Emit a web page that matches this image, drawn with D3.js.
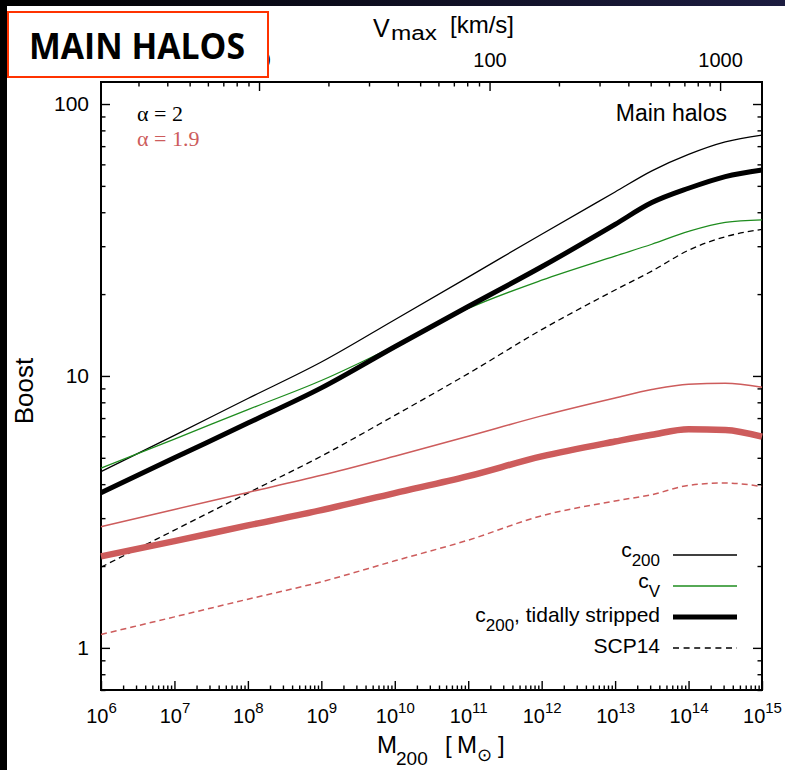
<!DOCTYPE html>
<html lang="en">
<head>
<meta charset="utf-8">
<title>Main halos - Boost</title>
<script src="https://d3js.org/d3.v7.min.js"></script>
<style>
  body { margin: 0; background: #fff; }
  text { font-family: "Liberation Sans", Arial, Helvetica, sans-serif; fill: #000; }
  .serif { font-family: "Liberation Serif", "Times New Roman", serif; }
</style>
</head>
<body>
<script>
// halo mass exponents (log10 M200) where the curves are sampled
const massExp = [6, 7, 8, 9, 10, 11, 12, 13, 13.5, 14, 14.5, 15];

// alpha = 2 (black / green)
const c200     = [4.45, 6.05, 8.26, 11.25, 16.1, 23.1, 33.2, 47.5, 56.8, 65.3, 72.6, 76.9];
const cV       = [4.58, 5.86, 7.52, 9.62, 12.9, 17.7, 22.5, 27.6, 30.5, 34.0, 36.7, 37.5];
const stripped = [3.72, 5.00, 6.71, 9.04, 12.8, 18.0, 25.2, 36.1, 43.4, 49.0, 54.1, 57.2];
const scp14    = [1.98, 2.71, 3.71, 5.07, 7.16, 10.2, 14.8, 20.7, 24.3, 29.0, 32.5, 34.6];

// alpha = 1.9 (red)
const c200Red     = [2.79, 3.23, 3.73, 4.31, 5.07, 6.00, 7.13, 8.30, 8.91, 9.33, 9.40, 9.08];
const strippedRed = [2.17, 2.47, 2.82, 3.21, 3.71, 4.28, 5.06, 5.74, 6.08, 6.37, 6.33, 5.98];
const scp14Red    = [1.12, 1.30, 1.51, 1.75, 2.09, 2.49, 3.06, 3.47, 3.66, 3.96, 4.04, 3.92];

const massTicks = [6, 7, 8, 9, 10, 11, 12, 13, 14, 15];
const boostTicks = [1, 10, 100];
const vmaxTicks = [10, 100, 1000];

const legendLabels = ["c200", "cV", "c200, tidally stripped", "SCP14"];

const width = 785, height = 770;
const plotL = 101, plotR = 762, plotT = 82, plotB = 690;
const red = "#cd5c5c", green = "#1e8c1e";

const x = d3.scaleLog().domain([1e6, 1e15]).range([plotL, plotR]);
const y = d3.scaleLog().domain([0.7, 120.5]).range([plotB, plotT]);
const v = d3.scaleLog().domain([2.063, 1520]).range([plotL, plotR]);

const svg = d3.select("body").append("svg")
  .attr("width", width).attr("height", height);

// slide background bits around the figure
const grad = svg.append("defs").append("linearGradient").attr("id", "band");
grad.append("stop").attr("offset", "0%").attr("stop-color", "#000");
grad.append("stop").attr("offset", "100%").attr("stop-color", "#1c1c40");
svg.append("rect").attr("x", 0).attr("y", 0).attr("width", width).attr("height", 6).attr("fill", "url(#band)");
svg.append("rect").attr("x", 0).attr("y", 0).attr("width", 7).attr("height", height).attr("fill", "#000");

// minor tick values
const minor = (lo, hi, dom) => {
  const out = [];
  for (let k = lo; k <= hi; k++)
    for (let m = 2; m <= 9; m++) {
      const val = m * Math.pow(10, k);
      if (val > dom[0] && val < dom[1]) out.push(val);
    }
  return out;
};

function axisGroup(axis, tx, ty) {
  const g = svg.append("g").attr("transform", `translate(${tx},${ty})`).call(axis);
  g.select(".domain").remove();
  g.selectAll(".tick line").attr("stroke", "#000").attr("stroke-width", 1.4);
  return g;
}

// bottom axis (M200)
const gx = axisGroup(d3.axisBottom(x)
  .tickValues(massTicks.map(e => Math.pow(10, e)))
  .tickSizeInner(-9).tickSizeOuter(0).tickPadding(33).tickFormat(""), 0, plotB);
gx.selectAll(".tick text").attr("font-size", 20).attr("dy", 0).each(function(d) {
  const t = d3.select(this);
  t.append("tspan").text("10");
  t.append("tspan").attr("font-size", 15).attr("dy", -10).text(Math.round(Math.log10(d)));
});
axisGroup(d3.axisBottom(x).tickValues(minor(6, 14, x.domain()))
  .tickSizeInner(-4.5).tickSizeOuter(0).tickFormat(""), 0, plotB);

// left axis (Boost)
const gy = axisGroup(d3.axisLeft(y).tickValues(boostTicks)
  .tickSizeInner(-9).tickSizeOuter(0).tickPadding(12).tickFormat(d3.format("d")), plotL, 0);
gy.selectAll(".tick text").attr("font-size", 21);
axisGroup(d3.axisLeft(y).tickValues(minor(-1, 1, y.domain()))
  .tickSizeInner(-4.5).tickSizeOuter(0).tickFormat(""), plotL, 0);

// right mirror ticks
axisGroup(d3.axisRight(y).tickValues(boostTicks)
  .tickSizeInner(-9).tickSizeOuter(0).tickFormat(""), plotR, 0);
axisGroup(d3.axisRight(y).tickValues(minor(-1, 1, y.domain()))
  .tickSizeInner(-4.5).tickSizeOuter(0).tickFormat(""), plotR, 0);

// top axis (Vmax)
const gv = axisGroup(d3.axisTop(v).tickValues(vmaxTicks)
  .tickSizeInner(-9).tickSizeOuter(0).tickPadding(15).tickFormat(d3.format("d")), 0, plotT);
gv.selectAll(".tick text").attr("font-size", 20);
axisGroup(d3.axisTop(v).tickValues(minor(0, 2, v.domain()))
  .tickSizeInner(-4.5).tickSizeOuter(0).tickFormat(""), 0, plotT);

// frame
svg.append("rect").attr("x", plotL).attr("y", plotT)
  .attr("width", plotR - plotL).attr("height", plotB - plotT)
  .attr("fill", "none").attr("stroke", "#000").attr("stroke-width", 2);

// curves
const line = d3.line().curve(d3.curveMonotoneX)
  .x(d => x(Math.pow(10, d[0]))).y(d => y(d[1]));
const series = [
  { vals: c200,        color: "#000", w: 1.3, dash: null },
  { vals: cV,          color: green,  w: 1.3, dash: null },
  { vals: scp14,       color: "#000", w: 1.3, dash: "6,4" },
  { vals: stripped,    color: "#000", w: 5,   dash: null },
  { vals: c200Red,     color: red,    w: 1.5, dash: null },
  { vals: scp14Red,    color: red,    w: 1.5, dash: "6,4" },
  { vals: strippedRed, color: red,    w: 6.5, dash: null }
];
svg.append("g").selectAll("path").data(series).join("path")
  .attr("d", s => line(massExp.map((e, i) => [e, s.vals[i]])))
  .attr("fill", "none")
  .attr("stroke", s => s.color)
  .attr("stroke-width", s => s.w)
  .attr("stroke-dasharray", s => s.dash);

// legend
const legendStyle = [
  { color: "#000", w: 1.3, dash: null, dy: 2 },
  { color: green,  w: 1.3, dash: null, dy: 2 },
  { color: "#000", w: 5,   dash: null, dy: 5 },
  { color: "#000", w: 1.3, dash: "6,4.6", dy: 5 }
];
const legendY = [555, 586, 617, 648];
const lg = svg.append("g");
legendLabels.forEach((lab, i) => {
  const ly = legendY[i], st = legendStyle[i];
  lg.append("line").attr("x1", 673).attr("x2", 737).attr("y1", ly).attr("y2", ly)
    .attr("stroke", st.color).attr("stroke-width", st.w)
    .attr("stroke-dasharray", st.dash);
  const t = lg.append("text").attr("x", 660).attr("y", ly + st.dy)
    .attr("text-anchor", "end").attr("font-size", 21);
  if (lab.startsWith("c200")) {
    t.append("tspan").text("c");
    t.append("tspan").attr("font-size", 17).attr("dy", 9).text("200");
    if (lab.length > 4) t.append("tspan").attr("dy", -9).text(lab.slice(4));
  } else if (lab === "cV") {
    t.append("tspan").text("c");
    t.append("tspan").attr("font-size", 17).attr("dy", 9).text("V");
  } else {
    t.text(lab);
  }
});

// annotations
svg.append("text").attr("x", 727).attr("y", 121).attr("text-anchor", "end")
  .attr("font-size", 23).text("Main halos");
svg.append("text").attr("class", "serif").attr("x", 137).attr("y", 121)
  .attr("font-size", 22).text("\u03b1 = 2");
svg.append("text").attr("class", "serif").attr("x", 137).attr("y", 146)
  .attr("font-size", 22).style("fill", red).text("\u03b1 = 1.9");

// axis titles
svg.append("text").attr("transform", "translate(33,391) rotate(-90)")
  .attr("text-anchor", "middle").attr("font-size", 26).text("Boost");

const xt = svg.append("text").attr("y", 753).attr("font-size", 24);
xt.append("tspan").attr("x", 377).text("M");
xt.append("tspan").attr("x", 396).attr("font-size", 19).attr("dy", 12).text("200");
xt.append("tspan").attr("x", 445).attr("dy", -12).text("[");
xt.append("tspan").attr("x", 457).text("M");
xt.append("tspan").attr("x", 477).attr("font-size", 18).attr("dy", 8).text("\u2299");
xt.append("tspan").attr("x", 498).attr("dy", -8).text("]");

svg.append("text").attr("x", 373).attr("y", 37).attr("font-size", 25).text("V");
svg.append("text").attr("x", 391).attr("y", 40).attr("font-size", 20)
  .attr("textLength", 46).attr("lengthAdjust", "spacingAndGlyphs").text("max");
svg.append("text").attr("x", 450).attr("y", 33).attr("font-size", 24).text("[km/s]");

// slide label box
svg.append("rect").attr("x", 8).attr("y", 12).attr("width", 260).attr("height", 65)
  .attr("fill", "#fff").attr("stroke", "#ff3300").attr("stroke-width", 2);
svg.append("text").attr("x", 29).attr("y", 59)
  .style("font-family", "'Open Sans', 'Noto Sans', sans-serif")
  .attr("font-weight", "bold").attr("font-size", 36)
  .attr("textLength", 216).attr("lengthAdjust", "spacingAndGlyphs")
  .text("MAIN HALOS");
</script>
</body>
</html>
